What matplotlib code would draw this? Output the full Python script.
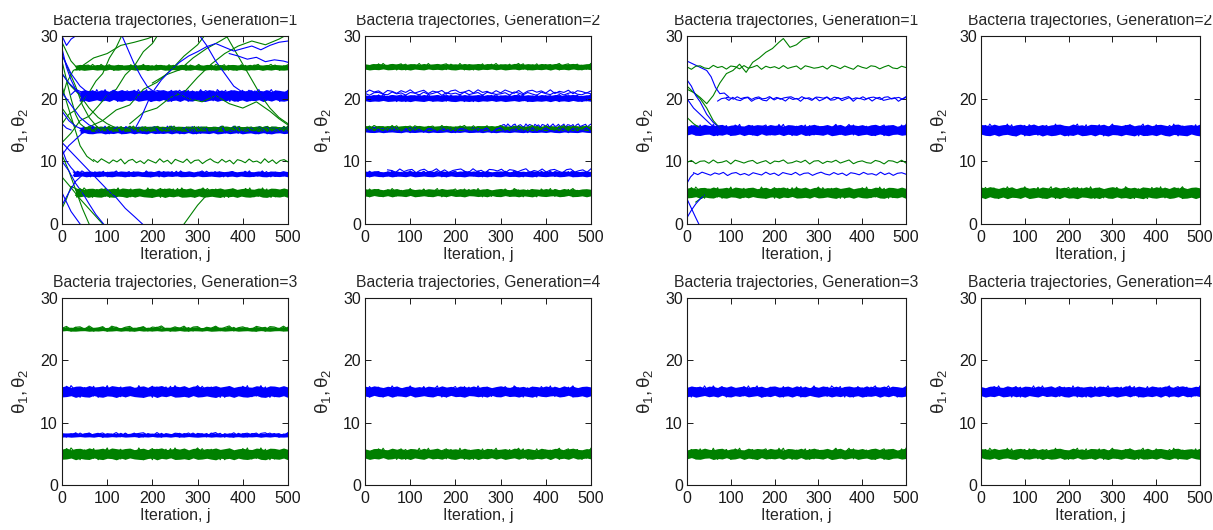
import numpy as np
import matplotlib
matplotlib.use("Agg")
import matplotlib.pyplot as plt
from matplotlib.patches import Rectangle

plt.rcParams['font.family'] = ['Liberation Sans', 'DejaVu Sans']
plt.rcParams['mathtext.fontset'] = 'custom'
plt.rcParams['mathtext.rm'] = 'Liberation Sans'
plt.rcParams['mathtext.it'] = 'Liberation Sans'
plt.rcParams['mathtext.bf'] = 'Liberation Sans:bold'

# ---------------- hand-estimated jitter of the noisy trajectories (fraction of band spread)
W1 = [0.6,-0.4,0.9,0.1,-0.7,0.5,-0.2,0.8,-0.9,0.3,0.7,-0.5,0.2,-0.8,0.6,0.0,-0.6,0.9,-0.3,0.4,-0.9,0.7,0.1,-0.4,0.8,-0.7,0.3,0.5,-0.8,0.2,0.9,-0.1,-0.6,0.7,-0.3,0.4,-0.9,0.6,0.2,-0.5,0.8,-0.2,0.1,-0.7,0.9,-0.4,0.5,-0.8,0.3,0.6,-0.2]
W2 = [-0.5,0.8,-0.1,0.4,-0.9,0.6,0.2,-0.7,0.5,-0.3,0.9,-0.6,0.1,0.7,-0.8,0.3,-0.2,0.6,-0.9,0.4,0.8,-0.4,-0.1,0.7,-0.6,0.9,-0.3,0.2,-0.8,0.5,-0.5,0.8,0.0,-0.7,0.6,-0.9,0.3,0.7,-0.2,0.4,-0.6,0.9,-0.8,0.2,-0.3,0.7,-0.9,0.5,0.1,-0.6,0.4]
W3 = [0.2,-0.9,0.5,0.7,-0.3,-0.6,0.9,-0.1,0.4,-0.8,0.6,0.3,-0.7,0.8,-0.4,0.1,0.9,-0.9,0.5,-0.2,0.3,-0.6,0.8,-0.5,0.1,0.6,-0.9,0.7,0.2,-0.4,-0.1,0.5,-0.8,0.9,0.3,-0.6,0.6,-0.2,-0.9,0.8,0.0,-0.5,0.7,0.4,-0.7,0.2,0.9,-0.3,-0.6,0.5,-0.1]
W4 = [-0.8,0.3,0.6,-0.5,0.9,-0.2,-0.6,0.4,0.8,-0.9,0.1,0.5,-0.4,-0.7,0.9,-0.3,0.6,0.2,-0.8,0.7,-0.1,0.4,-0.9,0.6,0.3,-0.5,0.8,-0.7,0.0,0.9,-0.4,-0.2,0.7,-0.6,0.1,0.8,-0.9,0.5,0.3,-0.3,0.6,-0.8,0.4,0.9,-0.5,-0.1,0.3,0.7,-0.9,0.2,0.8]
W5 = [0.4,0.1,-0.7,0.8,-0.4,0.3,0.6,-0.9,0.2,0.7,-0.5,-0.2,0.9,-0.6,0.4,-0.8,0.1,0.5,0.8,-0.3,-0.7,0.9,-0.4,0.2,-0.9,0.6,0.4,-0.1,0.7,-0.8,0.5,0.2,-0.5,0.3,0.9,-0.7,0.1,-0.4,0.8,-0.6,0.3,0.6,-0.2,-0.9,0.5,0.8,-0.6,0.0,0.4,-0.7,0.9]
W6 = [-0.2,0.7,-0.8,0.3,0.5,-0.6,0.9,-0.4,-0.1,0.6,-0.9,0.8,0.2,-0.5,0.3,0.7,-0.7,0.0,0.6,-0.8,0.4,0.1,0.9,-0.6,-0.3,0.5,-0.2,0.8,-0.9,0.4,0.6,-0.7,0.3,-0.1,0.8,-0.5,0.2,0.9,-0.8,0.1,0.5,-0.3,-0.6,0.7,0.2,-0.9,0.6,0.4,-0.4,0.8,-0.5]
JITTER = [W1, W2, W3, W4, W5, W6]

TITLES = ["Bacteria trajectories, Generation=1", "Bacteria trajectories, Generation=2",
          "Bacteria trajectories, Generation=1", "Bacteria trajectories, Generation=2",
          "Bacteria trajectories, Generation=3", "Bacteria trajectories, Generation=4",
          "Bacteria trajectories, Generation=3", "Bacteria trajectories, Generation=4"]
X_TICKS = [0, 100, 200, 300, 400, 500]
Y_TICKS = [0, 10, 20, 30]
X_LABEL = "Iteration, j"
Y_LABEL = r"$\theta_1, \theta_2$"

# ---------------- converged bands: level, spread (half width), theta (1 blue, 2 green), first iteration
P1_BAND_LEVEL = [20.5, 15.0, 8.0, 25.0, 15.2, 5.0]
P1_BAND_SPREAD = [1.0, 0.65, 0.5, 0.5, 0.45, 0.8]
P1_BAND_THETA = [1, 1, 1, 2, 2, 2]
P1_BAND_START = [40, 40, 25, 30, 50, 30]
P1_LINE_LEVEL = [10.0, 20.9]
P1_LINE_AMP = [0.45, 0.5]
P1_LINE_THETA = [2, 1]
P1_LINE_START = [70, 20]
P1_PATH_THETA = [2]*19 + [1]*17
P1_PATH_X = [
    [0,15,30,45,60,75,90,105,120,135],
    [0,20,40,60,80,100,120,140,160,180,200,215],
    [60,90,120,150,180,210,240,270,300,320],
    [150,180,210,240,270,300,330,360,390,420,450,480,500],
    [360,380,400,420,440,460,480,500],
    [250,280,310,340,370,400,430,460,480,500],
    [0,15,30,45,60,80],
    [0,10,25,40,55,70],
    [0,15,30,45,60],
    [0,20,40,60,80,90],
    [270,285,300,315,330],
    [0,10,20,35,50],
    [0,10,20,30],
    [0,10,25,40],
    [0,15,30],
    [0,20,40,60,80,100,120],
    [40,70,100,130,160,190,220],
    [0,10,20,30,40,50],
    [200,230,260,290,320,350,380],
    [0,10,20,30],
    [0,20,40,60,80,100,120,140,160,178],
    [0,15,30,45,60,75,92],
    [160,175,190,205,220,240,260,280,300,320,340,360,380,400,420,440,460,480,500],
    [370,390,410,430,450,470,490,500],
    [130,145,160,175,190,210],
    [300,320,340,360,380,400],
    [0,15,30,45,60],
    [0,15,30,45],
    [0,20,40,60],
    [0,10,20,30,40],
    [0,10,20,30],
    [0,15,30,45],
    [0,20,40,60,80],
    [0,10,20],
    [0,10,20,30,40],
    [0,15,30,45,60],
]
P1_PATH_Y = [
    [16,17.5,18.2,19.5,21,22.8,24,26.5,28.2,30.5],
    [13,14.5,16.5,17.2,18.8,20.5,21.5,23.8,25.2,27.5,28.8,30.5],
    [15.5,16.5,18.2,19,21.5,22.6,24.5,26.8,28.6,30.5],
    [16,17.8,18.5,20.2,21,23.4,25.5,27.2,28.4,29.2,28.6,29.5,30.3],
    [30.5,28,25.5,23,20.5,18.5,17,16],
    [21,20,19.5,20.5,19.2,18.5,19.5,18,16.8,15.8],
    [27,24.5,22,19,17,15.3],
    [22,19.5,16,12.5,10.8,10],
    [11,8.5,5.5,2.5,0],
    [7.5,5.8,4,2.4,0.8,0],
    [0,1.5,3,4.2,5],
    [2.5,4,6,5.5,5],
    [29,27.5,26,25.2],
    [20,22.5,24.5,25],
    [18.5,17,15.5],
    [24,22,20.5,18.5,17,16,15.3],
    [25,26.5,27.2,28.5,29,29.6,30.5],
    [26,23,20,17.5,16,15.4],
    [22.5,23.8,24.6,26.5,28,29.2,30.5],
    [30,28.5,29.5,30],
    [13,11.5,10,8.5,7,5.5,4.2,2.5,1.2,0],
    [10,8.5,6.5,5,3.2,1.5,0],
    [15,17,19.5,21.5,23,24.5,25.8,26.8,27.5,28.3,28.8,28.2,27.6,28,28.4,27.8,28.5,29,29.2],
    [27.2,26.8,26.3,26.6,25.9,26.2,26,25.8],
    [30.5,28,25.5,23.5,21.8,20.8],
    [30.5,28.5,26,24,22,21],
    [24,22.5,21.5,21,20.6],
    [18,16.5,15.6,15.1],
    [27,24,22,20.8],
    [5,3.5,2,1,0],
    [12,10,9,8.2],
    [3,5,6.8,7.8],
    [21,19,17,15.8,15.2],
    [16,15.3,15],
    [28,25,23,21.5,20.8],
    [11,12.5,13.5,14.5,15],
]

P2_BAND_LEVEL = [20.1, 15.0, 8.0, 25.1, 15.3, 5.0]
P2_BAND_SPREAD = [0.6, 0.45, 0.5, 0.55, 0.45, 0.7]
P2_BAND_THETA = [1, 1, 1, 2, 2, 2]
P2_BAND_START = [0, 0, 0, 0, 0, 0]
P2_LINE_LEVEL = [21.1, 20.8, 15.7, 8.5]
P2_LINE_AMP = [0.35, 0.3, 0.3, 0.35]
P2_LINE_THETA = [1, 1, 1, 1]
P2_LINE_START = [0, 0, 300, 50]
P2_PATH_THETA = []
P2_PATH_X = []
P2_PATH_Y = []

P3_BAND_LEVEL = [15.0, 5.0]
P3_BAND_SPREAD = [0.95, 0.95]
P3_BAND_THETA = [1, 2]
P3_BAND_START = [0, 0]
P3_LINE_LEVEL = [25.0, 19.9, 20.1, 9.9, 8.0]
P3_LINE_AMP = [0.35, 0.35, 0.25, 0.35, 0.3]
P3_LINE_THETA = [2, 1, 1, 2, 1]
P3_LINE_START = [0, 70, 90, 0, 15]
P3_PATH_THETA = [2, 2, 2, 2, 1, 1, 1, 1, 1, 1]
P3_PATH_X = [
    [0,15,30,45,60,75,90,105,120,135,150,165,180,195,210,220,235,250,265,280,290],
    [0,15,30,45,60,75],
    [0,15,30],
    [20,30,40,50],
    [0,15,30,45,55,65,75,85,95],
    [0,10,20,30,45,60,75],
    [0,15,30,45,60],
    [0,10,20,27],
    [0,10,20,30,40],
    [0,8,15],
]
P3_PATH_Y = [
    [22,21,20.2,19.2,20.5,22.5,24,24.5,25.5,24.2,25.8,26.5,27.4,28,29,29.6,28.2,28.6,29.5,29.8,30.5],
    [21.5,21,20,18.5,16.5,15.3],
    [17,16,15.3],
    [3.5,4,4.4,5],
    [26,25.5,25,24.5,23.5,21.8,20.8,20.9,20.3],
    [23,22,20.5,19.5,17.5,16.2,15.3],
    [20,18.5,17.5,16.5,15.5],
    [4,2.5,1,0],
    [1,2.2,3.2,4,4.6],
    [6.5,7.5,8],
]

P4_BAND_LEVEL = [15.0, 5.0]
P4_BAND_SPREAD = [1.0, 1.0]
P4_BAND_THETA = [1, 2]
P4_BAND_START = [0, 0]

P5_BAND_LEVEL = [15.0, 8.0, 25.0, 5.0]
P5_BAND_SPREAD = [1.0, 0.35, 0.35, 1.0]
P5_BAND_THETA = [1, 1, 2, 2]
P5_BAND_START = [0, 0, 0, 0]
P5_LINE_LEVEL = [8.1, 25.2]
P5_LINE_AMP = [0.35, 0.35]
P5_LINE_THETA = [1, 2]
P5_LINE_START = [0, 0]

P6_BAND_LEVEL = [15.0, 5.0]
P6_BAND_SPREAD = [0.95, 0.95]
P6_BAND_THETA = [1, 2]
P6_BAND_START = [0, 0]

COLORS = {1: '#0000ff', 2: '#008000'}

PANELS = [
    dict(band=(P1_BAND_LEVEL, P1_BAND_SPREAD, P1_BAND_THETA, P1_BAND_START),
         line=(P1_LINE_LEVEL, P1_LINE_AMP, P1_LINE_THETA, P1_LINE_START),
         path=(P1_PATH_THETA, P1_PATH_X, P1_PATH_Y)),
    dict(band=(P2_BAND_LEVEL, P2_BAND_SPREAD, P2_BAND_THETA, P2_BAND_START),
         line=(P2_LINE_LEVEL, P2_LINE_AMP, P2_LINE_THETA, P2_LINE_START),
         path=(P2_PATH_THETA, P2_PATH_X, P2_PATH_Y)),
    dict(band=(P3_BAND_LEVEL, P3_BAND_SPREAD, P3_BAND_THETA, P3_BAND_START),
         line=(P3_LINE_LEVEL, P3_LINE_AMP, P3_LINE_THETA, P3_LINE_START),
         path=(P3_PATH_THETA, P3_PATH_X, P3_PATH_Y)),
    dict(band=(P4_BAND_LEVEL, P4_BAND_SPREAD, P4_BAND_THETA, P4_BAND_START)),
    dict(band=(P5_BAND_LEVEL, P5_BAND_SPREAD, P5_BAND_THETA, P5_BAND_START),
         line=(P5_LINE_LEVEL, P5_LINE_AMP, P5_LINE_THETA, P5_LINE_START)),
    dict(band=(P6_BAND_LEVEL, P6_BAND_SPREAD, P6_BAND_THETA, P6_BAND_START)),
    dict(band=(P6_BAND_LEVEL, P6_BAND_SPREAD, P6_BAND_THETA, P6_BAND_START)),
    dict(band=(P6_BAND_LEVEL, P6_BAND_SPREAD, P6_BAND_THETA, P6_BAND_START)),
]

W_PX, H_PX = 1213, 530
fig = plt.figure(figsize=(W_PX / 100, H_PX / 100), dpi=100)
fig.patch.set_facecolor('white')

col_px = [(62, 226), (365, 226), (687, 219), (981, 219)]
row_px = [(36, 188), (298, 187)]
boxes = []
for r in range(2):
    for c in range(4):
        l, w = col_px[c]
        t, h = row_px[r]
        boxes.append([l / W_PX, 1 - (t + h) / H_PX, w / W_PX, h / H_PX])


def draw_panel(ax, spec, k):
    if 'path' in spec:
        th, xs, ys = spec['path']
        for i in range(len(th)):
            ax.plot(xs[i], ys[i], color=COLORS[th[i]], lw=0.8)
    if 'line' in spec:
        lv, am, th, st = spec['line']
        for i in range(len(lv)):
            w = np.array(JITTER[(i + k) % 6])
            x = np.linspace(st[i], 500, len(w))
            ax.plot(x, lv[i] + am[i] * w, color=COLORS[th[i]], lw=0.8)
    lv, sp, th, st = spec['band']
    for i in range(len(lv)):
        j = 2 * i + k
        wa = np.array(JITTER[j % 6]); wb = np.array(JITTER[(j + 1) % 6])
        wc = np.array(JITTER[(j + 2) % 6]); wd = np.array(JITTER[(j + 3) % 6])
        x = np.linspace(st[i], 500, len(wa))
        col = COLORS[th[i]]
        ax.fill_between(x, lv[i] - sp[i] * (0.8 + 0.18 * wa),
                        lv[i] + sp[i] * (0.8 + 0.18 * wb), color=col, lw=0)
        ax.plot(x, lv[i] + 1.05 * sp[i] * wc, color=col, lw=0.8)
        ax.plot(x, lv[i] + 1.05 * sp[i] * wd, color=col, lw=0.8)


for k, (box, spec) in enumerate(zip(boxes, PANELS)):
    ax = fig.add_axes(box)
    draw_panel(ax, spec, k)
    ax.set_xlim(0, 500)
    ax.set_ylim(0, 30)
    ax.set_xticks(X_TICKS)
    ax.set_yticks(Y_TICKS)
    ax.tick_params(direction='in', top=True, right=True, length=4, width=0.7,
                   labelsize=11.5, colors='#1a1a1a')
    ax.tick_params(axis='x', pad=4)
    ax.tick_params(axis='y', pad=3)
    for s in ax.spines.values():
        s.set_linewidth(0.8)
        s.set_color('#1a1a1a')
    ax.set_title(TITLES[k], fontsize=11.3, pad=8, color='#262626')
    ax.set_xlabel(X_LABEL, fontsize=11.5, labelpad=2, color='#262626')
    ax.set_ylabel(Y_LABEL, fontsize=13.5, labelpad=7, color='#262626')

# the top of the first row of titles is cut off in the source image
fig.add_artist(Rectangle((0, 1 - 15 / H_PX), 1, 15 / H_PX, transform=fig.transFigure,
                         facecolor='white', edgecolor='none', zorder=20))

fig.savefig('out.png', dpi=100, facecolor='white')
